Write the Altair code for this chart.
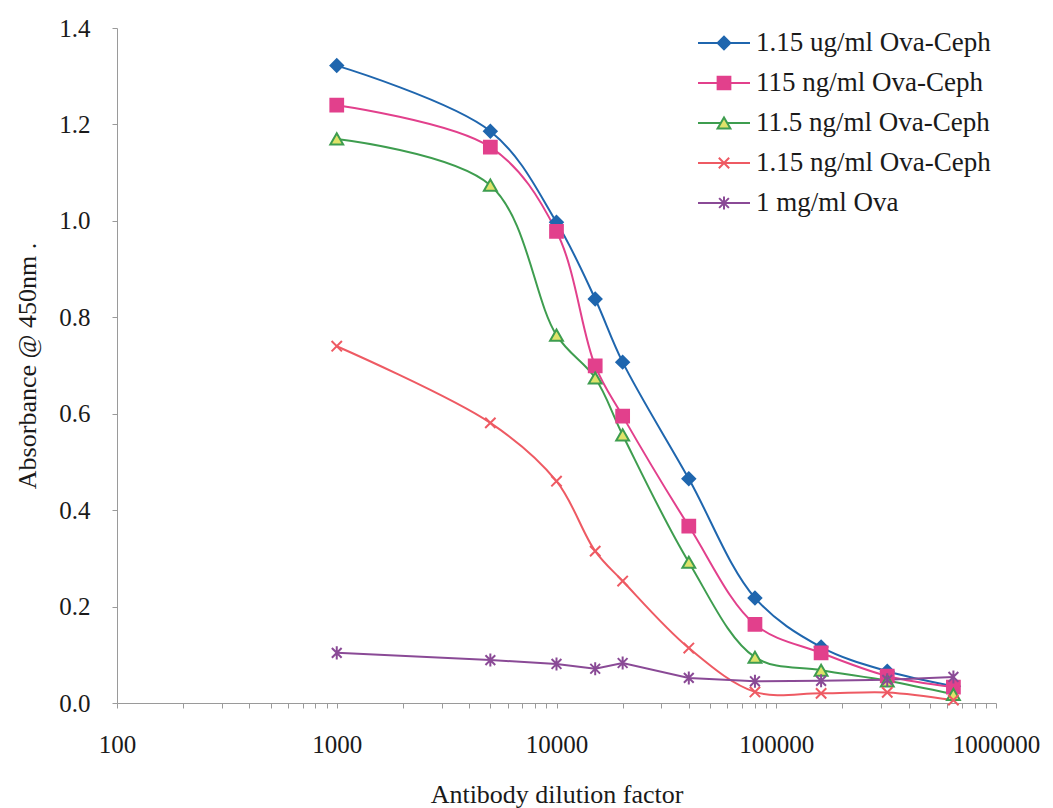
import altair as alt
import pandas as pd

dilution = [1000, 5000, 10000, 15000, 20000, 40000, 80000, 160000, 320000, 640000]
series_names = ["1.15 ug/ml Ova-Ceph", "115 ng/ml Ova-Ceph", "11.5 ng/ml Ova-Ceph",
                "1.15 ng/ml Ova-Ceph", "1 mg/ml Ova"]
ug115 = [1.322, 1.186, 0.997, 0.838, 0.707, 0.465, 0.218, 0.116, 0.066, 0.035]
ng115 = [1.240, 1.153, 0.978, 0.699, 0.595, 0.367, 0.163, 0.104, 0.056, 0.033]
ng11_5 = [1.170, 1.074, 0.763, 0.674, 0.556, 0.292, 0.095, 0.068, 0.046, 0.018]
ng1_15 = [0.740, 0.581, 0.460, 0.315, 0.253, 0.114, 0.023, 0.020, 0.022, 0.006]
ova = [0.104, 0.089, 0.081, 0.071, 0.083, 0.052, 0.045, 0.046, 0.048, 0.054]

line_colors = ["#1f66ae", "#e2408c", "#3e9d4f", "#ee5a63", "#8a4a96"]
fill_colors = ["#1f66ae", "#e2408c", "#dfe36a", "#ffffff", "#ffffff"]
shapes = ["diamond", "square", "triangle-up",
          "M-0.8,-0.8L0.8,0.8M-0.8,0.8L0.8,-0.8",
          "M-0.75,-0.75L0.75,0.75M-0.75,0.75L0.75,-0.75M0,-1L0,1"]

rows = []
for name, vals in zip(series_names, [ug115, ng115, ng11_5, ng1_15, ova]):
    for d, v in zip(dilution, vals):
        rows.append({"series": name, "dilution": d, "absorbance": v})
df = pd.DataFrame(rows)
legend_df = pd.DataFrame({"series": series_names})

FONT = "Liberation Serif"

minor_vals = []
for dec in [100, 1000, 10000, 100000]:
    for m in range(1, 10):
        minor_vals.append(dec * m)
minor_vals.append(1000000)

color_scale = alt.Scale(domain=series_names, range=line_colors)
fill_scale = alt.Scale(domain=series_names, range=fill_colors)
shape_scale = alt.Scale(domain=series_names, range=shapes)
size_scale = alt.Scale(domain=series_names, range=[160, 170, 150, 380, 320])

x_enc = alt.X("dilution:Q",
              scale=alt.Scale(type="log", domain=[100, 1000000], nice=False),
              axis=alt.Axis(values=minor_vals, format="d",
                            labelExpr="indexof([100,1000,10000,100000,1000000], datum.value) >= 0 ? datum.label : ''",
                            labelOverlap=False, labelFlush=False,
                            title="Antibody dilution factor",
                            tickSize=5, labelPadding=24, titlePadding=24,
                            domainColor="#9a9a9a", tickColor="#9a9a9a", grid=False))
y_enc = alt.Y("absorbance:Q",
              scale=alt.Scale(domain=[0, 1.4], nice=False, zero=True),
              axis=alt.Axis(values=[0, 0.2, 0.4, 0.6, 0.8, 1.0, 1.2, 1.4], format=".1f",
                            title="Absorbance @ 450nm  .",
                            tickSize=5, labelPadding=22, titlePadding=18,
                            domainColor="#9a9a9a", tickColor="#9a9a9a", grid=False))

smooth = alt.Chart(df).transform_filter(
    alt.datum.series != "1 mg/ml Ova"
).mark_line(interpolate="catmull-rom", strokeWidth=2).encode(
    x=x_enc, y=y_enc,
    color=alt.Color("series:N", scale=color_scale, legend=None),
    detail="series:N",
)
straight = alt.Chart(df).transform_filter(
    alt.datum.series == "1 mg/ml Ova"
).mark_line(strokeWidth=2).encode(
    x=alt.X("dilution:Q"), y=alt.Y("absorbance:Q"),
    color=alt.Color("series:N", scale=color_scale, legend=None),
)
pts = alt.Chart(df).mark_point(filled=False, strokeWidth=2, fillOpacity=1, opacity=1).encode(
    x=alt.X("dilution:Q"), y=alt.Y("absorbance:Q"),
    shape=alt.Shape("series:N", scale=shape_scale, legend=None),
    stroke=alt.Stroke("series:N", scale=color_scale, legend=None),
    fill=alt.Fill("series:N", scale=fill_scale, legend=None),
    size=alt.Size("series:N", scale=size_scale, legend=None),
)
data_layer = alt.layer(smooth, straight, pts)

leg_y = alt.Y("series:N", scale=alt.Scale(type="point", domain=series_names, range=[15, 175], padding=0), axis=None)
leg_line = alt.Chart(legend_df).mark_rule(strokeWidth=2).encode(
    x=alt.value(581), x2=alt.value(633), y=leg_y,
    color=alt.Color("series:N", scale=color_scale, legend=None),
)
leg_pts = alt.Chart(legend_df).mark_point(filled=False, strokeWidth=2, fillOpacity=1, opacity=1).encode(
    x=alt.value(607), y=leg_y,
    shape=alt.Shape("series:N", scale=shape_scale, legend=None),
    stroke=alt.Stroke("series:N", scale=color_scale, legend=None),
    fill=alt.Fill("series:N", scale=fill_scale, legend=None),
    size=alt.Size("series:N", scale=size_scale, legend=None),
)
leg_text = alt.Chart(legend_df).mark_text(align="left", baseline="middle", font=FONT,
                                            fontSize=27, color="#1a1a1a").encode(
    x=alt.value(639), y=leg_y, text="series:N",
)
legend_layer = alt.layer(leg_line, leg_pts, leg_text)

chart = alt.layer(data_layer, legend_layer).resolve_scale(y="independent").properties(
    width=879, height=675,
    padding={"left": 117, "top": 28, "right": 57, "bottom": 105},
    autosize=alt.AutoSizeParams(type="none"),
).configure(background="white").configure_view(stroke=None).configure_axis(
    labelFont=FONT, titleFont=FONT, labelFontSize=25, titleFontSize=26,
    labelColor="#1a1a1a", titleColor="#1a1a1a", titleFontWeight="normal",
)

chart.save("out.html", embed_options={"renderer": "svg", "actions": False})
